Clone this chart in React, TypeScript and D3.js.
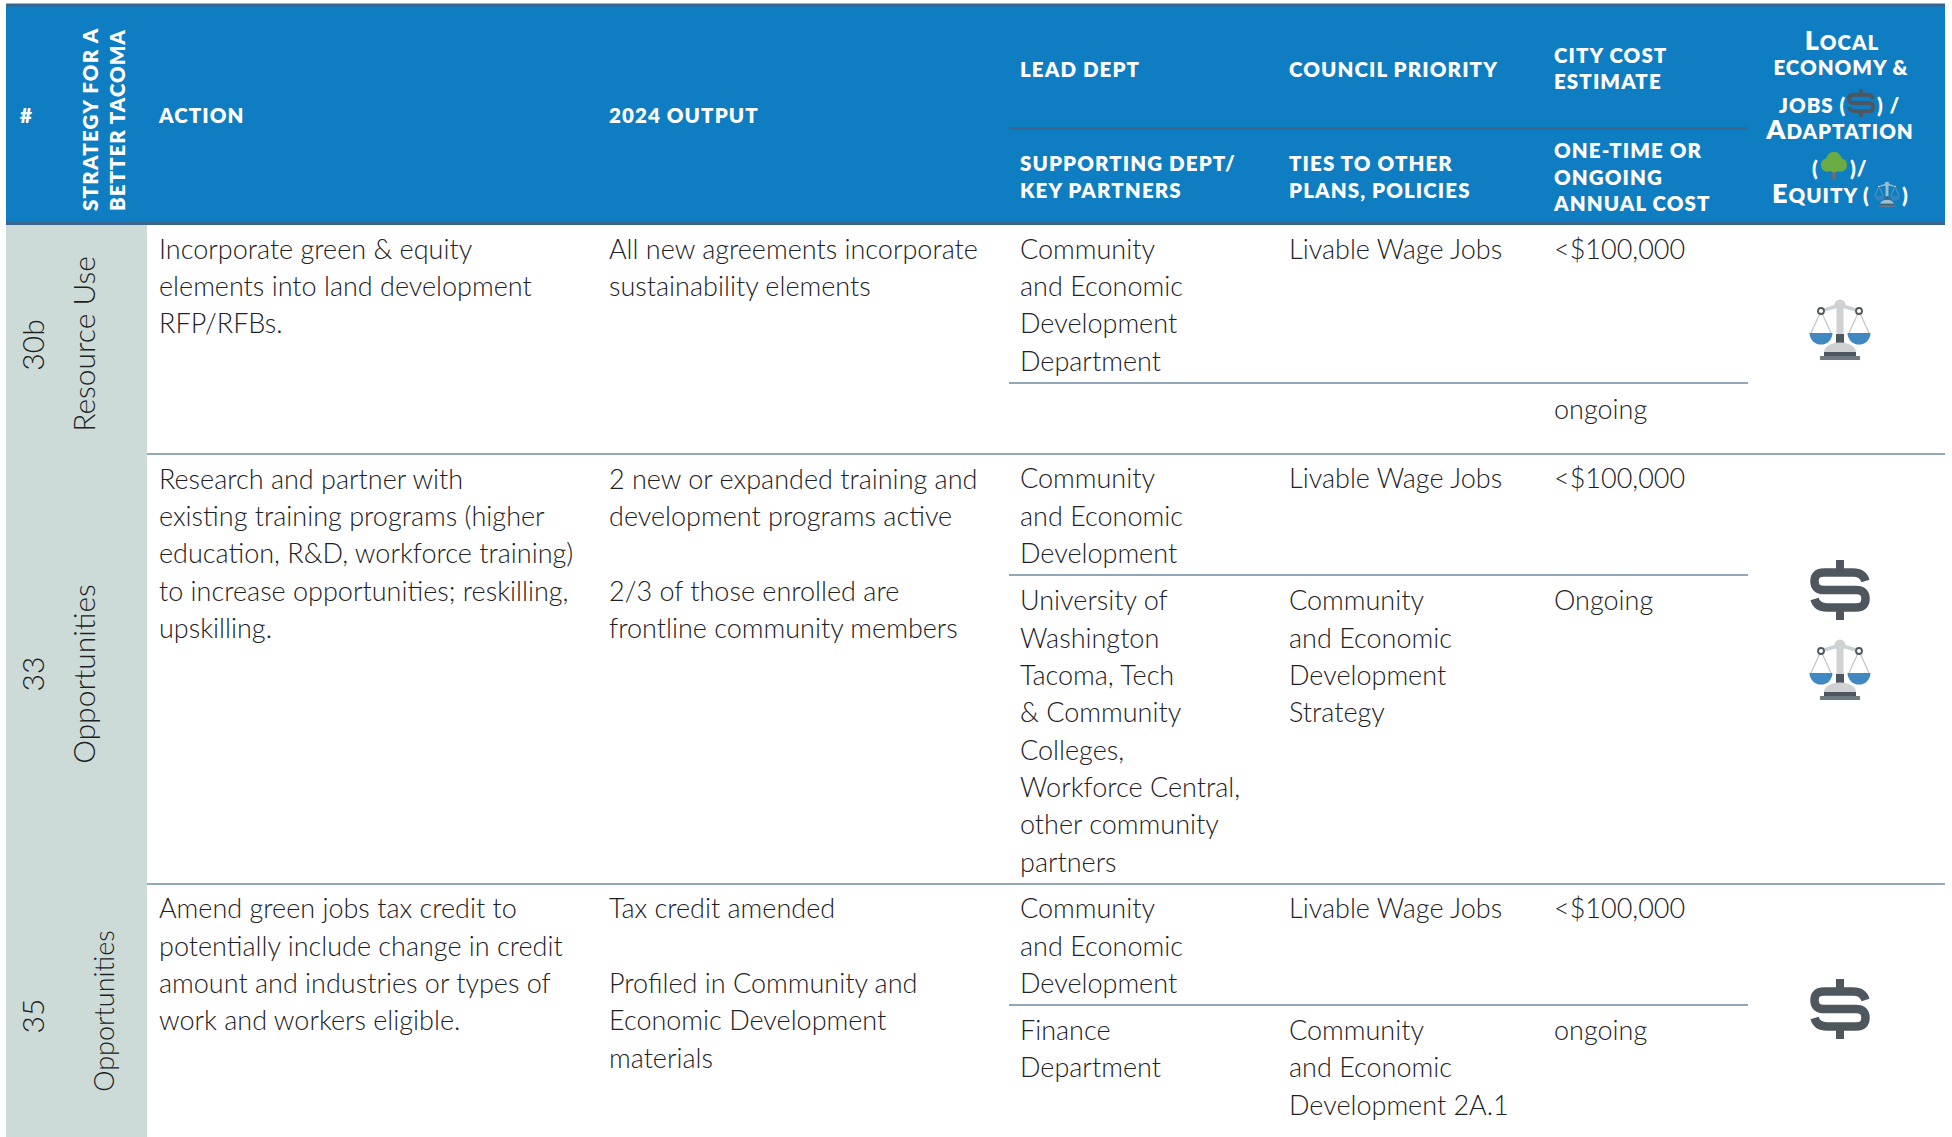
import React from "react";
import * as d3 from "d3";

const columns = ["num", "strategy", "action", "output", "lead", "priority", "cost", "icon"];
const columnX = [20, 72, 159, 609, 1020, 1289, 1554, 1842];
const rowEdges = [224, 454, 884, 1137];
const splitLines = [383, 575, 1005];
const rowNumbers = ["30b", "33", "35"];
const rowStrategies = ["Resource Use", "Opportunities", "Opportunities"];
const rowNumberY = [345, 674, 1016];
const rowStrategyX = [85, 85, 104];
const rowStrategyY = [344, 674, 1011];
const rowStrategySize = [30, 30, 27];
const bodyLines: [string, number, string][] = [
  ["action", 250, "Incorporate green & equity"],
  ["action", 287, "elements into land development"],
  ["action", 324, "RFP/RFBs."],
  ["output", 250, "All new agreements incorporate"],
  ["output", 287, "sustainability elements"],
  ["lead", 250, "Community"],
  ["lead", 287, "and Economic"],
  ["lead", 324, "Development"],
  ["lead", 362, "Department"],
  ["priority", 250, "Livable Wage Jobs"],
  ["cost", 250, "<$100,000"],
  ["cost", 410, "ongoing"],
  ["action", 480, "Research and partner with"],
  ["action", 517, "existing training programs (higher"],
  ["action", 554, "education, R&D, workforce training)"],
  ["action", 592, "to increase opportunities; reskilling,"],
  ["action", 629, "upskilling."],
  ["output", 480, "2 new or expanded training and"],
  ["output", 517, "development programs active"],
  ["output", 592, "2/3 of those enrolled are"],
  ["output", 629, "frontline community members"],
  ["lead", 479, "Community"],
  ["lead", 517, "and Economic"],
  ["lead", 554, "Development"],
  ["lead", 601, "University of"],
  ["lead", 639, "Washington"],
  ["lead", 676, "Tacoma, Tech"],
  ["lead", 713, "& Community"],
  ["lead", 751, "Colleges,"],
  ["lead", 788, "Workforce Central,"],
  ["lead", 825, "other community"],
  ["lead", 863, "partners"],
  ["priority", 479, "Livable Wage Jobs"],
  ["priority", 601, "Community"],
  ["priority", 639, "and Economic"],
  ["priority", 676, "Development"],
  ["priority", 713, "Strategy"],
  ["cost", 479, "<$100,000"],
  ["cost", 601, "Ongoing"],
  ["action", 909, "Amend green jobs tax credit to"],
  ["action", 947, "potentially include change in credit"],
  ["action", 984, "amount and industries or types of"],
  ["action", 1021, "work and workers eligible."],
  ["output", 909, "Tax credit amended"],
  ["output", 984, "Profiled in Community and"],
  ["output", 1021, "Economic Development"],
  ["output", 1059, "materials"],
  ["lead", 909, "Community"],
  ["lead", 947, "and Economic"],
  ["lead", 984, "Development"],
  ["lead", 1031, "Finance"],
  ["lead", 1068, "Department"],
  ["priority", 909, "Livable Wage Jobs"],
  ["priority", 1031, "Community"],
  ["priority", 1068, "and Economic"],
  ["priority", 1106, "Development 2A.1"],
  ["cost", 909, "<$100,000"],
  ["cost", 1031, "ongoing"],
];
const headerLines: [string, number, string][] = [
  ["num", 115, "#"],
  ["action", 115, "ACTION"],
  ["output", 115, "2024 OUTPUT"],
  ["lead", 69, "LEAD DEPT"],
  ["priority", 69, "COUNCIL PRIORITY"],
  ["cost", 55, "CITY COST"],
  ["cost", 81, "ESTIMATE"],
  ["lead", 163, "SUPPORTING DEPT/"],
  ["lead", 190, "KEY PARTNERS"],
  ["priority", 163, "TIES TO OTHER"],
  ["priority", 190, "PLANS, POLICIES"],
  ["cost", 150, "ONE-TIME OR"],
  ["cost", 177, "ONGOING"],
  ["cost", 203, "ANNUAL COST"],
];
const equityIcons = [331, 671];
const dollarIcons = [590, 1009];

const x = d3.scaleOrdinal<string, number>().domain(columns).range(columnX);
const BLUE = "#0f7dc2";
const NAVY = "#3a6591";
const GREY = "#4f575e";
const INK = "#1d2124";
const SANS = "Lato, 'Open Sans', sans-serif";

function Dollar({ cx, cy, s = 1 }: { cx: number; cy: number; s?: number }) {
  const path = d3.path();
  path.moveTo(25.5, -9);
  path.quadraticCurveTo(23, -17.5, 13, -17.5);
  path.lineTo(-16, -17.5);
  path.quadraticCurveTo(-25.5, -17.5, -25.5, -8.8);
  path.quadraticCurveTo(-25.5, 0, -16, 0);
  path.lineTo(16, 0);
  path.quadraticCurveTo(25.5, 0, 25.5, 8.8);
  path.quadraticCurveTo(25.5, 17.5, 16, 17.5);
  path.lineTo(-13, 17.5);
  path.quadraticCurveTo(-23, 17.5, -25.5, 9);
  return (
    <g transform={`translate(${cx},${cy}) scale(${s})`}>
      <path d={path.toString()} fill="none" stroke={GREY} strokeWidth={8.5} />
      <rect x={-4} y={-30} width={8} height={10} fill={GREY} />
      <rect x={-4} y={20} width={8} height={10} fill={GREY} />
    </g>
  );
}

function Scales({ cx, cy, s = 1, o = 1 }: { cx: number; cy: number; s?: number; o?: number }) {
  const pan = d3.arc()({ innerRadius: 0, outerRadius: 11.5, startAngle: Math.PI / 2, endAngle: (3 * Math.PI) / 2 }) || "";
  const dome = d3.arc()({ innerRadius: 0, outerRadius: 16, startAngle: -Math.PI / 2, endAngle: Math.PI / 2 }) || "";
  return (
    <g transform={`translate(${cx},${cy}) scale(${s})`} opacity={o}>
      <path d="M-19,-20 L0,-26 L19,-20" fill="none" stroke="#c9d2d6" strokeWidth={3.5} />
      <rect x={-3.5} y={-26} width={7} height={32} fill="#cfd1d3" />
      <circle cx={0} cy={-26} r={5.5} fill="#cfd1d3" />
      <path d="M-19,-20 L-29,2 M-19,-20 L-9,2 M19,-20 L9,2 M19,-20 L29,2" stroke="#c4c8ca" strokeWidth={1.3} fill="none" />
      <circle cx={-19} cy={-20} r={3} fill="#fff" stroke={GREY} strokeWidth={1.8} />
      <circle cx={19} cy={-20} r={3} fill="#fff" stroke={GREY} strokeWidth={1.8} />
      <path d={pan} transform="translate(-19,2)" fill="#4088c2" />
      <path d={pan} transform="translate(19,2)" fill="#4088c2" />
      <rect x={-4} y={3} width={8} height={9} fill={GREY} />
      <path d={dome} transform="translate(0,21) scale(1,0.6)" fill="#cfd1d3" />
      <rect x={-16} y={21} width={32} height={4} fill={GREY} />
      <rect x={-20} y={25} width={40} height={4} fill="#6d7a82" />
    </g>
  );
}

function Tree({ cx, cy, s = 1 }: { cx: number; cy: number; s?: number }) {
  return (
    <g transform={`translate(${cx},${cy}) scale(${s})`}>
      <rect x={-1.5} y={0} width={3} height={13} fill="#8a6a4b" />
      <circle cx={-6} cy={-1} r={6.5} fill="#6bab43" />
      <circle cx={6} cy={-1} r={6.5} fill="#6bab43" />
      <circle cx={0} cy={-6} r={7.5} fill="#6bab43" />
      <circle cx={0} cy={1} r={5} fill="#6bab43" />
    </g>
  );
}

export default function App() {
  const sc = { fontFamily: SANS, fontWeight: 800, fill: "#fff", letterSpacing: 1 } as const;
  const smallCaps = (txt: string) => <tspan fontSize={20.5}>{txt}</tspan>;
  const big = (txt: string) => <tspan fontSize={27}>{txt}</tspan>;
  return (
    <svg width={1952} height={1137} style={{ position: "absolute", left: 0, top: 0, display: "block", background: "#fff" }}>
      <rect x={6} y={4} width={1939} height={220} fill={BLUE} />
      <rect x={6} y={224} width={141} height={913} fill="#ccdbd8" />
      <line x1={6} x2={1945} y1={5} y2={5} stroke={NAVY} strokeWidth={3} />
      <line x1={6} x2={1945} y1={223.5} y2={223.5} stroke={NAVY} strokeWidth={3} />
      <line x1={1009} x2={1748} y1={128.5} y2={128.5} stroke={NAVY} strokeWidth={3} />
      {rowEdges.slice(1, 3).map((y) => (
        <line key={y} x1={147} x2={1945} y1={y} y2={y} stroke="#6d8aa3" strokeWidth={1.3} />
      ))}
      {splitLines.map((y) => (
        <line key={y} x1={1009} x2={1748} y1={y} y2={y} stroke="#6d8aa3" strokeWidth={1.3} />
      ))}

      {headerLines.map(([col, y, t]) => (
        <text key={col + y} x={x(col)} y={y + 7.5} fontFamily={SANS} fontWeight={800} fontSize={20.5} letterSpacing={1.1} fill="#fff">{t}</text>
      ))}
      <text transform="translate(98,211) rotate(-90)" fontFamily={SANS} fontWeight={800} fontSize={20.5} letterSpacing={1.2} fill="#fff">STRATEGY FOR A</text>
      <text transform="translate(125,211) rotate(-90)" fontFamily={SANS} fontWeight={800} fontSize={20.5} letterSpacing={1} fill="#fff">BETTER TACOMA</text>

      <text x={1842} y={50} textAnchor="middle" {...sc}>{big("L")}{smallCaps("OCAL")}</text>
      <text x={1841} y={75} textAnchor="middle" {...sc} fontSize={20.5}>ECONOMY &amp;</text>
      <text x={1779} y={113} {...sc} fontSize={20.5}>JOBS (</text>
      <Dollar cx={1861} cy={103} s={0.47} />
      <text x={1877} y={113} {...sc} fontSize={20.5}>) /</text>
      <text x={1840} y={139} textAnchor="middle" {...sc}>{big("A")}{smallCaps("DAPTATION")}</text>
      <text x={1812} y={176} {...sc} fontSize={20.5}>(</text>
      <Tree cx={1834} cy={166} s={1.05} />
      <text x={1850} y={176} {...sc} fontSize={20.5}>)/</text>
      <text x={1772} y={203} {...sc}>{big("E")}{smallCaps("QUITY (")}</text>
      <Scales cx={1887} cy={195} s={0.42} o={0.75} />
      <text x={1902} y={203} {...sc} fontSize={20.5}>)</text>

      {rowNumbers.map((t, i) => (
        <text key={i} transform={`translate(${x("num")! + 24},${rowNumberY[i]}) rotate(-90)`} textAnchor="middle" fontFamily={SANS} fontWeight={300} fontSize={30} fill={INK}>{t}</text>
      ))}
      {rowStrategies.map((t, i) => (
        <text key={i} transform={`translate(${rowStrategyX[i] + 10},${rowStrategyY[i]}) rotate(-90)`} textAnchor="middle" fontFamily={SANS} fontWeight={300} fontSize={rowStrategySize[i]} fill={INK}>{t}</text>
      ))}
      {bodyLines.map(([col, y, t], i) => (
        <text key={i} x={x(col)} y={y + 9} fontFamily={SANS} fontWeight={300} fontSize={27} fill={INK}>{t}</text>
      ))}
      {equityIcons.map((y) => <Scales key={y} cx={1840} cy={y} />)}
      {dollarIcons.map((y) => <Dollar key={y} cx={1840} cy={y} />)}
    </svg>
  );
}
